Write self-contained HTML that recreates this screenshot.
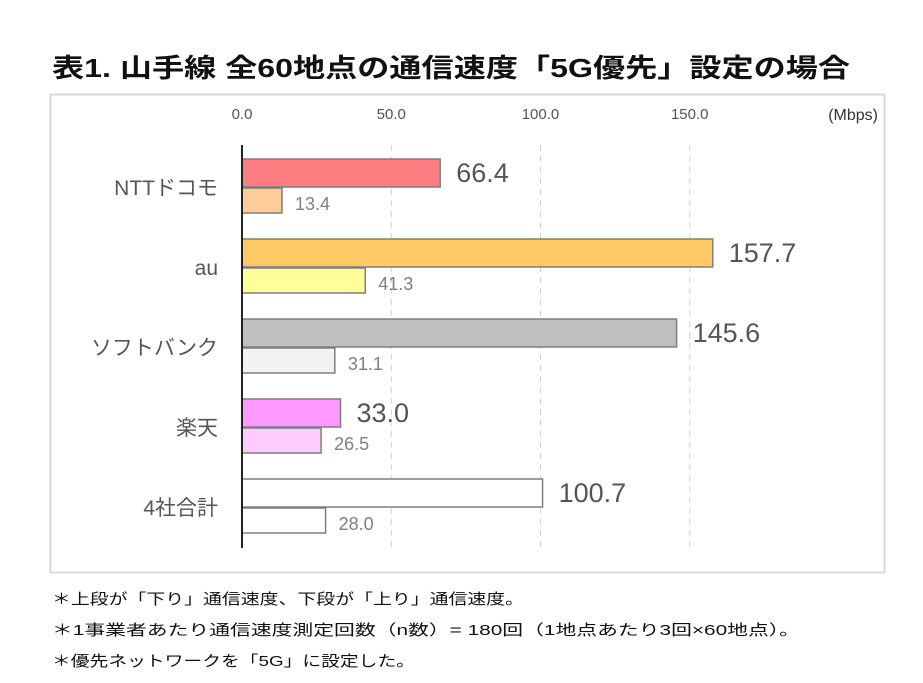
<!DOCTYPE html>
<html><head><meta charset="utf-8">
<style>
body{margin:0;background:#fff;width:923px;height:683px;overflow:hidden;font-family:"Liberation Sans","Noto Sans CJK JP",sans-serif;}
svg{position:absolute;left:0;top:0}
</style></head>
<body>
<svg id="chart" width="923" height="683">
<text x="52" y="77" font-size="26" font-weight="bold" fill="#111" textLength="798" lengthAdjust="spacingAndGlyphs" font-family="Liberation Sans, Noto Sans CJK JP, sans-serif">表1. 山手線 全60地点の通信速度「5G優先」設定の場合</text>
<rect x="50.5" y="94.5" width="834" height="478" fill="#fff" stroke="#d9d9d9" stroke-width="2"/>
<g id="grid"></g>
<g id="bars"></g>
<text x="878" y="120" font-size="16" fill="#333" text-anchor="end">(Mbps)</text>
<g font-size="15" fill="#111">
<text x="52" y="604" textLength="472" lengthAdjust="spacingAndGlyphs">＊上段が「下り」通信速度、下段が「上り」通信速度。</text>
<text x="52" y="635" textLength="748" lengthAdjust="spacingAndGlyphs">＊1事業者あたり通信速度測定回数（n数）= 180回（1地点あたり3回×60地点）。</text>
<text x="52" y="666" textLength="363" lengthAdjust="spacingAndGlyphs">＊優先ネットワークを「5G」に設定した。</text>
</g>
</svg>
<script>
const categories=["NTTドコモ","au","ソフトバンク","楽天","4社合計"];
const downloadValues=[66.4,157.7,145.6,33.0,100.7];
const uploadValues=[13.4,41.3,31.1,26.5,28.0];
const tickValues=[0,50,100,150];
const tickLabels=["0.0","50.0","100.0","150.0"];
const downColors=["#ff7c80","#ffc966","#bfbfbf","#ff99ff","#ffffff"];
const upColors=["#ffcc99","#ffff99","#f2f2f2","#ffccff","#ffffff"];
const NS="http://www.w3.org/2000/svg";
const x0=242,pxPer=2.985;
const xs=v=>x0+v*pxPer;
const yc=i=>187+i*80;
function mk(tag,attrs,parent,text){const e=document.createElementNS(NS,tag);for(const k in attrs)e.setAttribute(k,attrs[k]);if(text!==undefined)e.textContent=text;parent.appendChild(e);return e;}
const grid=document.getElementById('grid'),bars=document.getElementById('bars');
tickValues.forEach((t,i)=>{
  if(t>0){const l=mk('line',{x1:xs(t),x2:xs(t),y1:145,y2:548,stroke:'#d0d0d0','stroke-dasharray':'6,5'},grid);
  
  }
  const tx=mk('text',{x:xs(t),y:119,'font-size':15,fill:'#555','text-anchor':'middle'},grid,tickLabels[i]);
  
  
});
categories.forEach((c,i)=>{
  const cy=yc(i);
  const lb=mk('text',{x:218,y:cy+8,'font-size':21,fill:'#555','text-anchor':'end'},bars,c);
  
  
  const d=mk('rect',{x:x0,y:cy-28,width:downloadValues[i]*pxPer,height:28,fill:downColors[i],stroke:'#7f7f7f','stroke-width':1.5},bars);
  
  
  const u=mk('rect',{x:x0,y:cy+1,width:uploadValues[i]*pxPer,height:25,fill:upColors[i],stroke:'#7f7f7f','stroke-width':1.5},bars);
  
  
  const dl=mk('text',{x:xs(downloadValues[i])+16,y:cy-5,'font-size':27,fill:'#555'},bars,downloadValues[i].toFixed(1));
  
  
  const ul=mk('text',{x:xs(uploadValues[i])+13,y:cy+23,'font-size':18,fill:'#808080'},bars,uploadValues[i].toFixed(1));
  
  
});
const ax=mk('line',{x1:x0,x2:x0,y1:145,y2:548,stroke:'#222','stroke-width':2},bars);


</script>
</body></html>
